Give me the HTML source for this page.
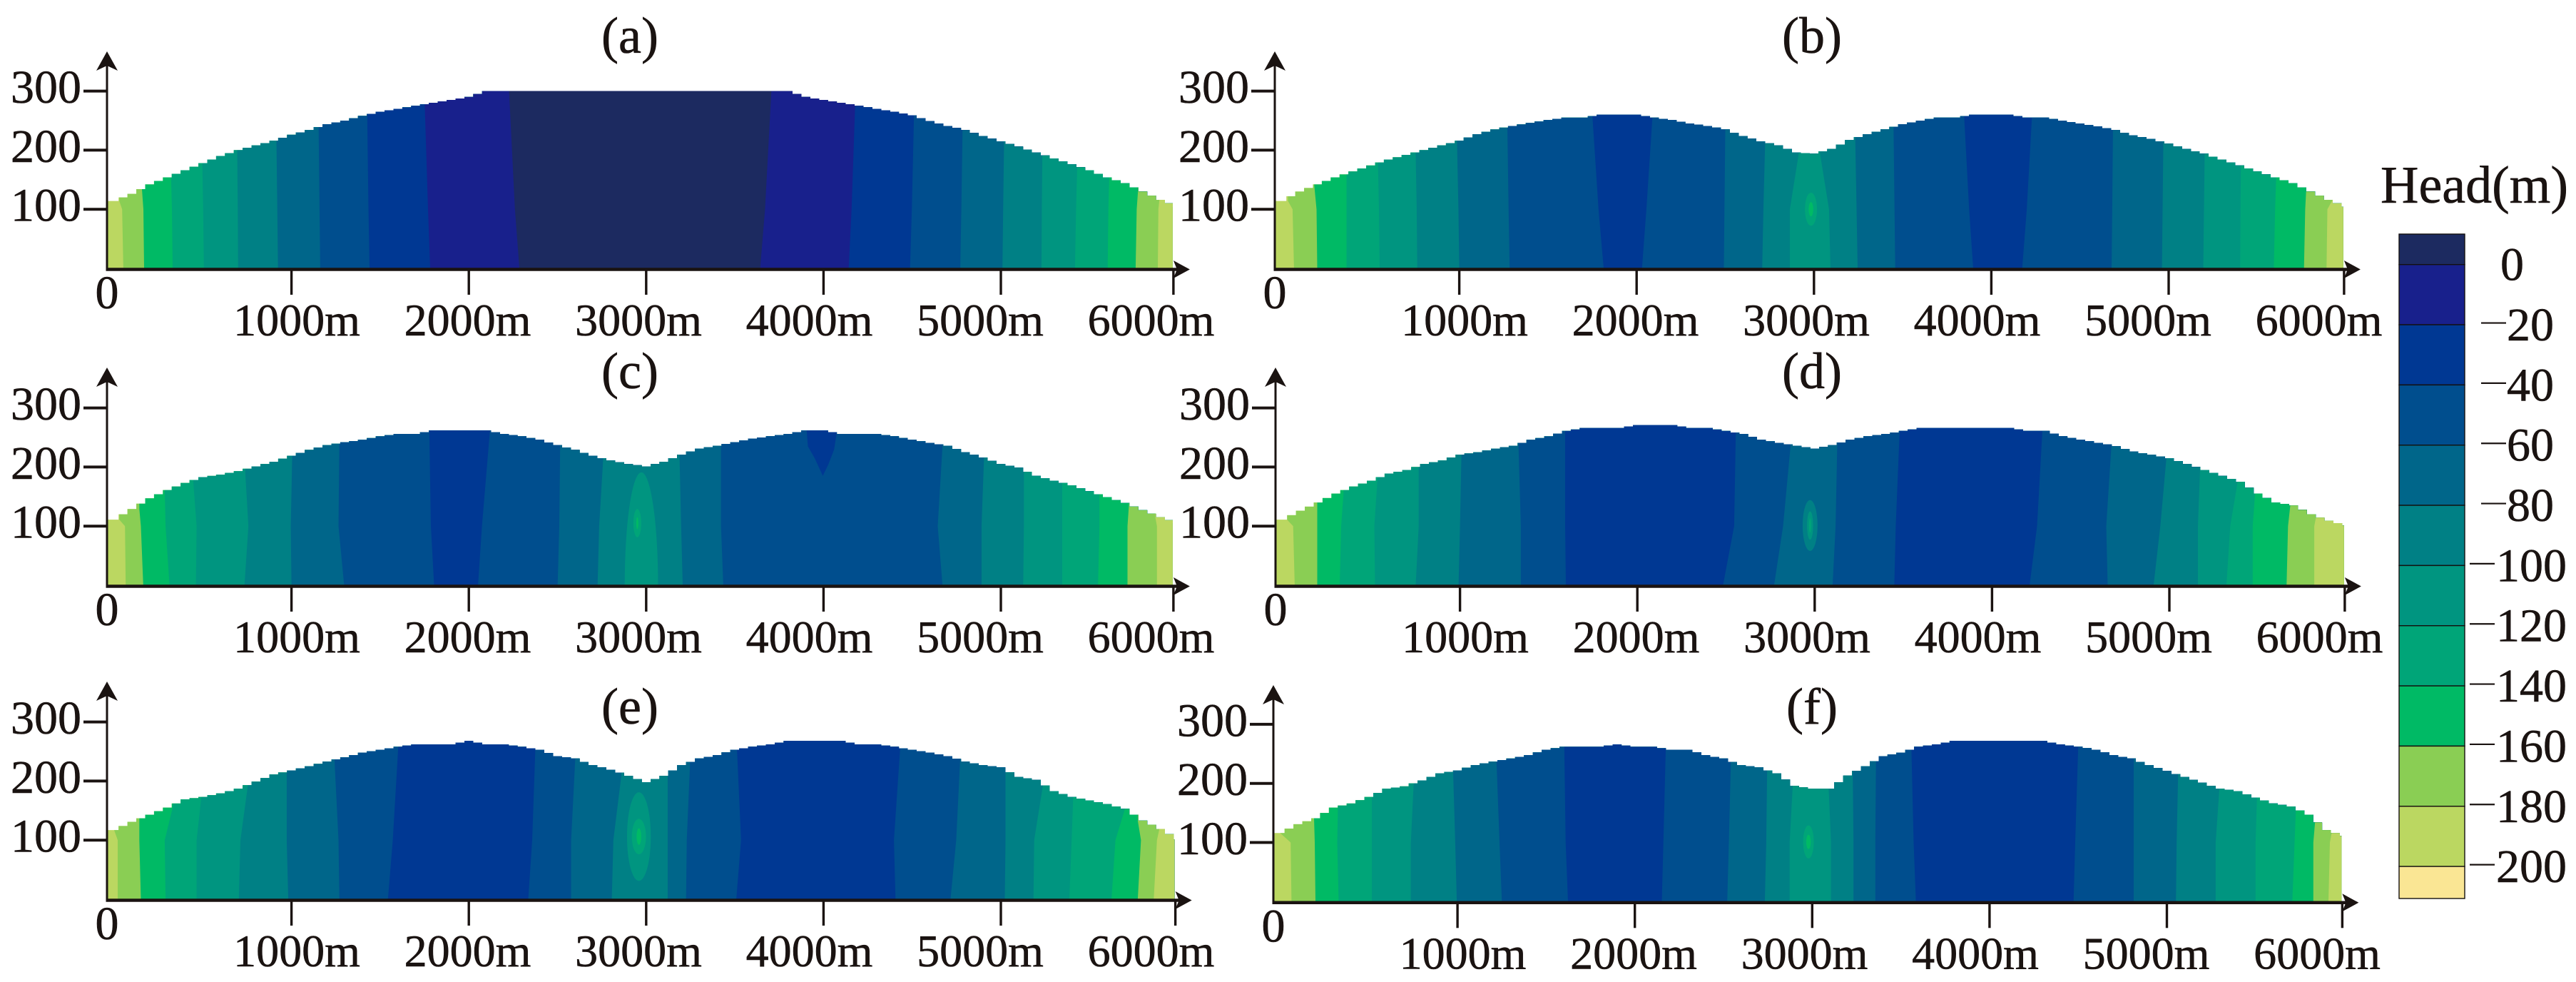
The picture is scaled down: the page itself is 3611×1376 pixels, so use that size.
<!DOCTYPE html>
<html lang="en">
<head>
<meta charset="utf-8">
<title>Head contours</title>
<style>
html,body{margin:0;padding:0;background:#fff;width:3611px;height:1376px;overflow:hidden}
svg{display:block;font-family:"Liberation Serif","Times New Roman",serif}
svg text{stroke:#1a1311;stroke-width:.6px}
</style>
</head>
<body>
<svg id="chart" xmlns="http://www.w3.org/2000/svg" width="3611" height="1376" viewBox="0 0 3611 1376"></svg>
<script>
// ---- Colour scale (head in m) ----
const legendThresholds = [0,-20,-40,-60,-80,-100,-120,-140,-160,-180,-200];
const legendColors = ['#1c2a60','#18208c','#003893','#004e8e','#00668a','#008085','#009580','#00a578','#00ba65','#8ace54','#bbd761','#fae694'];
const legendLabels = ['0','20','40','60','80','100','120','140','160','180','200'];

// ---- Axis values ----
const xTickValues = [1000,2000,3000,4000,5000,6000];
const xTickLabels = ['1000m','2000m','3000m','4000m','5000m','6000m'];
const yTickValues = [100,200,300];
const yTickLabels = ['100','200','300'];

// ---- Panel (a) ----
const surfaceA = [114,126,142,154,166,178,190,200,208,216,226,234,244,250,258,265,270,275,280,285,290,300,300,300,300,300,300,300,300,300,300,300,300,300,300,300,300,300,300,290,285,280,275,270,265,259,249,241,234,224,215,206,196,186,176,166,154,144,130,116,104];
const headsA = [-190,-170,-150,-130,-110,-90,-70,-50,-30,-10,5,-10,-30,-50,-70,-90,-110,-130,-150,-170,-190];
const edgeTopA = [29,155,321,497,694,915,1153,1427,1751,2227,3706,4178,4510,4784,5018,5234,5431,5611,5773,5894];
const edgeMidA = [45,165,326,502,697,920,1158,1434,1770,2260,3670,4158,4498,4777,5013,5231,5424,5606,5766,5888];
const edgeBotA = [52,169,330,506,699,924,1162,1440,1782,2285,3643,4142,4488,4771,5009,5229,5418,5602,5760,5885];
const closuresA = [];
const wedgesA = [];

// ---- Panel (b) ----
const surfaceB = [114,130,142,154,164,174,184,192,200,208,216,227,235,241,246,251,255,255,260,260,260,255,251,245,241,235,224,215,208,196,194,202,217,227,235,244,250,255,255,260,260,260,255,255,250,245,240,234,225,219,211,202,194,184,174,164,154,144,130,116,104];
const headsB = [-190,-170,-150,-130,-110,-90,-70,-50,-30,-50,-70,-90,-110,-90,-70,-50,-30,-50,-70,-90,-110,-130,-150,-170,-190];
const edgeTopB = [34,182,364,542,754,987,1271,1750,2089,2500,2725,2915,3034,3233,3449,3847,4229,4686,4970,5203,5407,5606,5775,5924];
const edgeMidB = [60,195,364,547,760,995,1278,1785,2055,2495,2715,2864,3085,3240,3454,3875,4200,4682,4966,5199,5405,5600,5770,5895];
const edgeBotB = [68,199,364,551,763,1000,1284,1814,2030,2492,2708,2864,3093,3246,3458,3898,4174,4678,4962,5195,5403,5593,5763,5890];
const closuresB = [[2983,100,34,28,-130],[2983,100,13,12,-150]];
const wedgesB = [];

// ---- Panel (c) ----
const surfaceC = [111,129,147,161,173,183,187,193,201,209,219,229,237,242,246,252,256,256,262,262,262,262,256,252,246,237,229,219,211,205,201,209,221,231,236,242,248,252,256,262,262,256,256,256,252,246,241,236,225,216,205,199,185,177,169,159,149,139,127,115,105];
const headsC = [-190,-170,-150,-130,-110,-90,-70,-50,-30,-50,-70,-90,-70,-50,-70,-90,-110,-130,-150,-170,-190];
const edgeTopC = [29,142,285,447,739,1004,1270,1777,2119,2515,2757,3188,3422,4671,4905,5130,5346,5556,5723,5871];
const edgeMidC = [61,151,290,465,757,996,1265,1786,2074,2510,2735,3197,3422,4644,4891,5130,5346,5556,5714,5880];
const edgeBotC = [65,164,312,461,735,1000,1297,1804,2052,2501,2726,3206,3435,4671,4891,5126,5346,5548,5714,5880];
const closuresC = [[2973,0,94,191,-110],[2950,105,22,24,-130],[2950,105,6,10,-150]];
const wedgesC = [{ head: -30, metres: [3895,3912,3950,3996,4028,4060,4096], heads: [300,235,215,185,205,230,300] }];

// ---- Panel (d) ----
const surfaceD = [111,126,140,155,167,177,189,195,205,211,221,225,231,236,246,252,261,266,266,266,271,271,271,266,266,261,256,246,241,236,231,237,246,252,256,261,266,266,266,266,266,266,261,261,252,246,241,235,226,221,215,205,195,185,175,155,140,135,120,109,101];
const headsD = [-190,-170,-150,-130,-110,-90,-70,-50,-30,-50,-70,-50,-30,-50,-70,-90,-110,-130,-150,-170,-190];
const edgeTopD = [25,195,343,534,767,1008,1330,1593,2555,2864,3127,3479,4284,4673,4983,5173,5385,5483,5682,5830];
const edgeMidD = [59,195,330,517,767,1000,1343,1593,2546,2822,3118,3457,4254,4644,4949,5161,5343,5470,5669,5817];
const edgeBotD = [68,195,322,521,750,992,1343,1597,2483,2771,3101,3449,4212,4652,4911,5161,5322,5470,5661,5817];
const closuresD = [[2974,101,42,43,-90],[2974,101,17,24,-110],[2974,101,6,12,-130]];
const wedgesD = [];

// ---- Panel (e) ----
const surfaceE = [117,131,143,155,169,173,179,187,199,211,218,225,233,240,248,253,258,262,262,262,268,262,262,258,253,242,238,227,219,209,198,209,227,238,244,253,258,262,268,268,268,268,262,262,258,253,248,242,233,227,223,207,202,183,173,167,161,153,133,119,101];
const headsE = [-190,-170,-150,-130,-110,-90,-70,-50,-30,-50,-70,-90,-70,-50,-30,-50,-70,-90,-110,-130,-150,-170,-190];
const edgeTopE = [0,142,330,492,757,973,1243,1602,2375,2600,2860,3121,3247,3512,4433,4770,5026,5242,5408,5700,5772,5894];
const edgeMidE = [20,142,285,465,712,973,1265,1571,2357,2577,2815,3121,3229,3535,4397,4748,5026,5188,5399,5646,5790,5880];
const edgeBotE = [20,151,290,465,703,982,1270,1544,2335,2577,2806,3121,3225,3508,4406,4716,5022,5184,5386,5624,5772,5862];
const closuresE = [[2959,106,67,75,-110],[2959,106,40,30,-130],[2959,106,13,14,-150]];
const wedgesE = [];

// ---- Panel (f) ----
const surfaceF = [116,131,141,159,166,177,191,195,205,217,222,231,237,242,248,257,262,262,262,266,262,262,257,257,248,242,231,227,217,196,191,191,213,229,246,252,262,266,272,272,272,272,272,272,266,262,257,248,242,231,221,211,201,191,187,176,166,161,147,121,111];
const headsF = [-190,-170,-150,-130,-110,-90,-70,-50,-30,-50,-70,-90,-110,-90,-70,-50,-30,-50,-70,-90,-110,-130,-150,-170,-190];
const edgeTopF = [0,191,326,517,754,975,1220,1602,2174,2542,2746,2890,3093,3229,3360,3559,4500,4813,5063,5296,5508,5728,5839,5932];
const edgeMidF = [59,195,322,517,737,987,1237,1610,2161,2530,2741,2873,3106,3233,3356,3572,4483,4813,5055,5275,5500,5720,5826,5919];
const edgeBotF = [64,199,330,517,737,996,1250,1623,2152,2521,2733,2873,3106,3233,3356,3585,4474,4813,5051,5275,5500,5707,5826,5911];
const closuresF = [[2979,101,30,28,-130],[2979,101,13,12,-150]];
const wedgesF = [];

const svg = document.getElementById('chart');
const NS = 'http://www.w3.org/2000/svg';
const INK = '#1a1311';
let clipCount = 0;

function el(tag, attrs, parent) {
  const n = document.createElementNS(NS, tag);
  for (const k in attrs) n.setAttribute(k, attrs[k]);
  (parent || svg).appendChild(n);
  return n;
}

function headColor(v) {
  let i = 0;
  while (i < legendThresholds.length && v < legendThresholds[i]) i++;
  return legendColors[i];
}

function drawPanel(id, title, titleX, titleBase, x0, axisX, base, topY, xr, surface, heads, eTop, eMid, eBot, closures, wedges) {
  const xLeft = (axisX - x0) / 0.2486;
  const X = m => x0 + m * 0.2486;
  const Y = h => base - h * 0.828;
  const surf = m => surface[Math.max(0, Math.min(surface.length - 1, Math.round(m / 100)))];

  const g = el('g', {});
  
  

  // clip = stair-stepped land surface (cells half the sample spacing)
  const clipId = 'clip' + (clipCount++);
  const clip = el('clipPath', { id: clipId }, g);
  let d = 'M' + X(xLeft) + ' ' + Y(0);
  surface.forEach((h, k) => {
    const a = k === 0 ? xLeft : Math.max(xLeft, (k - 0.25) * 100);
    const b = k === surface.length - 1 ? xr : Math.min(xr, (k + 0.25) * 100);
    d += 'L' + X(a) + ' ' + Y(h) + 'L' + X(b) + ' ' + Y(h);
    if (k < surface.length - 1 && (k + 0.25) * 100 < xr) {
      const hm = (h + surface[k + 1]) / 2;
      const c = Math.min(xr, (k + 0.75) * 100);
      d += 'L' + X(b) + ' ' + Y(hm) + 'L' + X(c) + ' ' + Y(hm);
    }
  });
  d += 'L' + X(xr) + ' ' + Y(0) + 'Z';
  el('path', { d: d }, clip);

  const field = el('g', { 'clip-path': 'url(#' + clipId + ')' }, g);
  
  

  // contour bands: painted left to right, each reaching to the right boundary
  heads.forEach((head, i) => {
    let pts;
    if (i === 0) {
      pts = [[xLeft, 0], [xLeft, 340]];
    } else {
      const e = i - 1;
      pts = [[eBot[e], 0], [eMid[e], 100], [eTop[e], Math.max(101, surf(eTop[e]))], [eTop[e], 340]];
    }
    pts.push([xr, 340], [xr, 0]);
    const poly = el('polygon', {
      points: pts.map(p => X(p[0]).toFixed(1) + ',' + Y(p[1]).toFixed(1)).join(' '),
      fill: headColor(head)
    }, field);
    
    
  });

  // closed contours around the pumping zone / peaks
  closures.forEach(c => {
    const ell = el('ellipse', {
      cx: X(c[0]), cy: Y(c[1]), rx: c[2] * 0.2486, ry: c[3] * 0.828, fill: headColor(c[4])
    }, field);
    
    
  });

  wedges.forEach(w => {
    const poly = el('polygon', {
      points: w.metres.map((m, i) => X(m).toFixed(1) + ',' + Y(w.heads[i]).toFixed(1)).join(' '),
      fill: headColor(w.head)
    }, field);
    
    
  });

  // axes
  const tipX = X(xr) + 24;
  const xAxis = el('line', { x1: axisX - 1.5, x2: tipX - 8, y1: base + 1.5, y2: base + 1.5, stroke: INK, 'stroke-width': 4.5 }, g);
  
  
  const xArrow = el('polygon', { points: [[tipX, base + 1.5], [tipX - 23, base - 11], [tipX - 18, base + 1.5], [tipX - 23, base + 14]].map(p => p.join(',')).join(' '), fill: INK }, g);
  
  
  const yAxis = el('line', { x1: axisX, x2: axisX, y1: base + 2, y2: topY + 12, stroke: INK, 'stroke-width': 3 }, g);
  
  
  const yArrow = el('polygon', { points: [[axisX, topY], [axisX + 15, topY + 27], [axisX, topY + 20], [axisX - 15, topY + 27]].map(p => p.join(',')).join(' '), fill: INK }, g);
  
  

  yTickValues.forEach((v, i) => {
    const tick = el('line', { x1: axisX - 33, x2: axisX, y1: Y(v), y2: Y(v), stroke: INK, 'stroke-width': 4 }, g);
    
    
    const t = el('text', { x: axisX - 36, y: Y(v) + 16.5, 'text-anchor': 'end', 'font-size': 66, fill: INK }, g);
    t.textContent = yTickLabels[i];
    
    
  });

  const zero = el('text', { x: axisX, y: base + 56, 'text-anchor': 'middle', 'font-size': 66, fill: INK }, g);
  zero.textContent = '0';
  
  

  xTickValues.forEach((v, i) => {
    const tx = Math.min(X(v), X(xr) + 1);
    const tick = el('line', { x1: tx, x2: tx, y1: base + 2, y2: base + 37, stroke: INK, 'stroke-width': 3.4 }, g);
    
    
    const t = el('text', { x: x0 + 256 + 239.5 * (v / 1000 - 1), y: base + 94, 'text-anchor': 'middle', 'font-size': 64, fill: INK }, g);
    t.textContent = xTickLabels[i];
    
    
  });

  const tt = el('text', { x: titleX, y: titleBase, 'text-anchor': 'middle', 'font-size': 72, fill: INK }, g);
  tt.textContent = title;
  
  
}

drawPanel('a', '(a)', 883, 74, 160, 150, 376, 72, 5969, surfaceA, headsA, edgeTopA, edgeMidA, edgeBotA, closuresA, wedgesA);
drawPanel('b', '(b)', 2540, 74, 1797, 1787, 376, 72, 5985, surfaceB, headsB, edgeTopB, edgeMidB, edgeBotB, closuresB, wedgesB);
drawPanel('c', '(c)', 883, 544, 160, 150, 820, 515, 5969, surfaceC, headsC, edgeTopC, edgeMidC, edgeBotC, closuresC, wedgesC);
drawPanel('d', '(d)', 2540, 544, 1798, 1788, 820, 515, 5985, surfaceD, headsD, edgeTopD, edgeMidD, edgeBotD, closuresD, wedgesD);
drawPanel('e', '(e)', 883, 1014, 160, 150, 1260, 955, 5980, surfaceE, headsE, edgeTopE, edgeMidE, edgeBotE, closuresE, wedgesE);
drawPanel('f', '(f)', 2540, 1014, 1794.5, 1785, 1263.3, 960, 5985, surfaceF, headsF, edgeTopF, edgeMidF, edgeBotF, closuresF, wedgesF);

// ---- Legend ----
(function () {
  const lg = el('g', {});
  
  
  const LY = v => 370.7 - v * 4.217;
  const boxX = 3363, boxW = 92, boxTop = 328, boxBottom = 1259;

  legendColors.forEach((c, i) => {
    const y1 = i === 0 ? boxTop : LY(legendThresholds[i - 1]);
    const y2 = i === legendColors.length - 1 ? boxBottom : LY(legendThresholds[i]);
    const r = el('rect', { x: boxX, y: y1, width: boxW, height: y2 - y1, fill: c, stroke: '#14100f', 'stroke-width': 1.4 }, lg);
    
    
  });

  legendThresholds.forEach((v, i) => {
    const label = legendLabels[i];
    const yy = LY(v);
    if (v !== 0) {
      const tx = label.length === 2 ? 3478 : 3462;
      const tick = el('line', { x1: tx, x2: tx + 35, y1: yy - 2.5, y2: yy - 2.5, stroke: INK, 'stroke-width': 2.2 }, lg);
      
      
    }
    const lx = label.length === 3 ? 3499 : (label.length === 2 ? 3514 : 3505);
    const t = el('text', { x: lx, y: yy + 22, 'font-size': 66, fill: INK }, lg);
    t.textContent = label;
    
    
  });

  const head = el('text', { x: 3337, y: 284, 'font-size': 74, fill: INK }, lg);
  head.textContent = 'Head(m)';
  
  
})();
</script>
</body>
</html>
